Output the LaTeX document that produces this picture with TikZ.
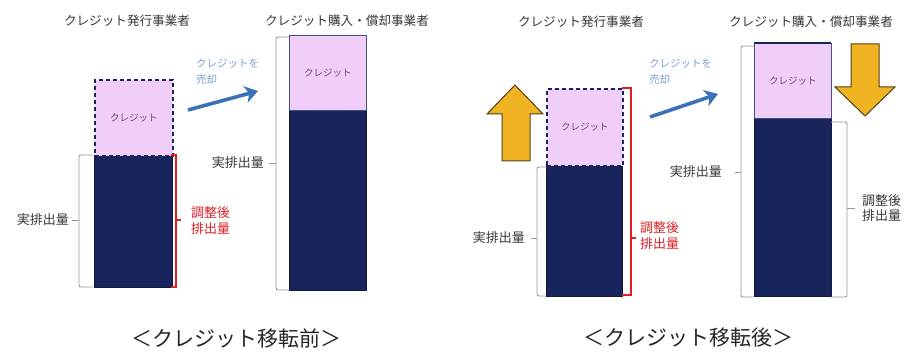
\documentclass[tikz,border=0pt]{standalone}
\usepackage{fontspec}
\setmainfont{Noto Sans CJK JP}
\usetikzlibrary{arrows.meta}
\definecolor{navy}{RGB}{24,36,92}
\definecolor{lilac}{RGB}{241,206,247}
\definecolor{gold}{RGB}{240,180,35}
\definecolor{goldline}{RGB}{80,65,25}
\definecolor{brk}{RGB}{150,150,155}
\definecolor{redc}{RGB}{225,30,35}
\definecolor{bluearrow}{RGB}{60,112,185}
\definecolor{bluetxt}{RGB}{125,160,205}
\definecolor{credtxt}{RGB}{95,75,115}
\definecolor{txt}{RGB}{55,55,55}
\tikzset{
  title/.style={font=\fontsize{12.6}{14}\selectfont, text=txt, inner sep=0pt},
  caption/.style={font=\fontsize{21}{24}\selectfont, text=black!85, inner sep=0pt},
  lbl/.style={font=\fontsize{13}{15}\selectfont, text=txt, inner sep=0pt, align=left},
  redlbl/.style={font=\fontsize{13}{16}\selectfont, text=redc, inner sep=0pt, align=left},
  bluelbl/.style={font=\fontsize{10.5}{16}\selectfont, text=bluetxt, inner sep=0pt, align=left},
  credbox/.style={fill=lilac, draw=navy, line width=1.6pt, dashed, dash pattern=on 4pt off 3pt, anchor=north west, inner sep=0pt, font=\fontsize{9.5}{10}\selectfont, text=credtxt},
  credsolid/.style={fill=lilac, draw=navy!80, line width=0.8pt, anchor=north west, inner sep=0pt, font=\fontsize{9.5}{10}\selectfont, text=credtxt},
  darkbox/.style={fill=navy, draw=navy!70!black, line width=0.6pt, anchor=north west, inner sep=0pt},
  gbr/.style={draw=brk, line width=0.9pt, rounded corners=2pt},
  rbr/.style={draw=redc, line width=1.6pt},
  sellarrow/.style={draw=bluearrow, line width=3.6pt, -{Stealth[length=13pt,width=17pt,inset=4pt]}, shorten >=0pt},
  goldarrow/.style={fill=gold, draw=goldline, line width=1pt, line join=miter},
}
\begin{document}
\begin{tikzpicture}[x=1pt,y=-1pt]
\useasboundingbox (0,0) rectangle (905,352);
% ===== Left panel (before) =====
\node[title] (tA1) at (127,21) {クレジット発行事業者};
\node[title] (tA2) at (347,21) {クレジット購入・償却事業者};
\node[darkbox, minimum width=78pt, minimum height=132pt] (dA1) at (94,155) {};
\node[credbox, minimum width=78pt, minimum height=76pt] (cA1) at (94,79) {クレジット};
\node[darkbox, minimum width=77pt, minimum height=180pt] (dA2) at (289,110) {};
\node[credsolid, minimum width=77pt, minimum height=75pt] (cA2) at (289,35) {クレジット};
% brackets
\draw[gbr] (93,155) -- (79,155) -- (79,287) -- (93,287);
\coordinate (gA1) at (72,220);
\draw[gbr] (79,220) -- (gA1);
\node[lbl, anchor=east] (lA1) at (69,220) {実排出量};
\draw[rbr] (171,155) -- (176,155) -- (176,287) -- (171,287);
\coordinate (rA1) at (181,220);
\draw[rbr] (176,220) -- (rA1);
\node[redlbl, anchor=west] (rlA1) at (191,221) {調整後\\排出量};
\draw[gbr] (289,37) -- (276,37) -- (276,290) -- (289,290);
\coordinate (gA2) at (269,163);
\draw[gbr] (276,163) -- (gA2);
\node[lbl, anchor=east] (lA2) at (264,163) {実排出量};
% sell arrow
\node[bluelbl, anchor=north west] (sA) at (196,59) {クレジットを\\売却};
\coordinate (sA0) at (188,110);
\coordinate (sA1) at (258,91);
\draw[sellarrow] (sA0) -- (sA1);
\node[caption] (capA) at (236,338) {＜クレジット移転前＞};
% ===== Right panel (after) =====
\node[title] (tB1) at (581,22) {クレジット発行事業者};
\node[title] (tB2) at (811,22) {クレジット購入・償却事業者};
\node[darkbox, minimum width=76pt, minimum height=131pt] (dB1) at (546,165) {};
\node[credbox, minimum width=76pt, minimum height=77pt] (cB1) at (546,88) {クレジット};
\node[darkbox, minimum width=77pt, minimum height=178pt] (dB2) at (754,118) {};
\node[credsolid, minimum width=77pt, minimum height=75pt] (cB2) at (754,43) {クレジット};
\draw[navy, line width=2pt] (754,43) -- (831,43);
% gold arrows
\draw[goldarrow] (502,161) -- (502,114) -- (487,114) -- (515,85) -- (543,114) -- (530,114) -- (530,161) -- cycle;
\draw[goldarrow] (851,44) -- (851,87) -- (835,87) -- (865,116) -- (895,87) -- (879,87) -- (879,44) -- cycle;
% brackets
\draw[gbr] (546,167) -- (537,167) -- (537,296) -- (546,296);
\coordinate (gB1) at (531,238);
\draw[gbr] (537,238) -- (gB1);
\node[lbl, anchor=east] (lB1) at (525,238) {実排出量};
\draw[rbr] (622,88) -- (631,88) -- (631,295) -- (622,295);
\coordinate (rB1) at (636,238);
\draw[rbr] (631,238) -- (rB1);
\node[redlbl, anchor=west] (rlB1) at (640,236) {調整後\\排出量};
\draw[gbr] (754,46) -- (741,46) -- (741,297) -- (754,297);
\coordinate (gB2) at (735,172);
\draw[gbr] (741,172) -- (gB2);
\node[lbl, anchor=east] (lB2) at (722,172) {実排出量};
\draw[gbr] (831,122) -- (847,122) -- (847,297) -- (831,297);
\coordinate (gB3) at (855,208);
\draw[gbr] (847,208) -- (gB3);
\node[lbl, anchor=west] (lB3) at (862,208) {調整後\\排出量};
% sell arrow
\node[bluelbl, anchor=north west] (sB) at (649,59) {クレジットを\\売却};
\coordinate (sB0) at (650,117);
\coordinate (sB1) at (718,94);
\draw[sellarrow] (sB0) -- (sB1);
\node[caption] (capB) at (688,338) {＜クレジット移転後＞};
\end{tikzpicture}
\end{document}
